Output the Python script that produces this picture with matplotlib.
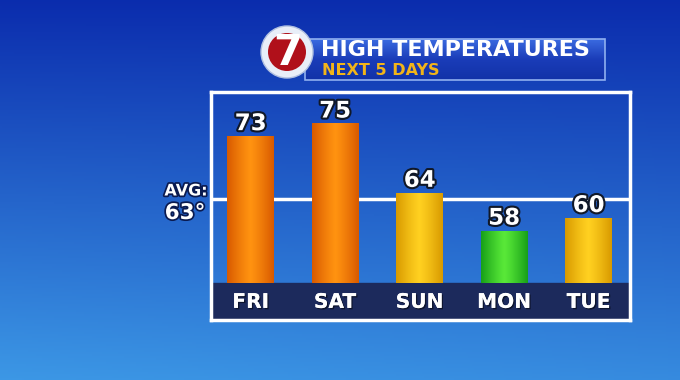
import numpy as np
import matplotlib.pyplot as plt
import matplotlib.patheffects as pe
from matplotlib.colors import LinearSegmentedColormap, to_rgb
from matplotlib.patches import Circle, Rectangle

days = ['FRI', 'SAT', 'SUN', 'MON', 'TUE']
highs = [73, 75, 64, 58, 60]
avg_temp = 63
# (edge colour, centre colour) per bar
bar_cols = [('#d85a00', '#ff9210'), ('#d85a00', '#ff9210'), ('#d89a00', '#ffd020'),
            ('#18a018', '#58e838'), ('#d89a00', '#ffd020')]
base = 49.6

fig = plt.figure(figsize=(6.8, 3.8), dpi=100)

# background gradient
bg = fig.add_axes([0, 0, 1, 1], zorder=0)
bg.axis('off')
ny, nx = 190, 340
yy, xx = np.mgrid[0:1:ny*1j, 0:1:nx*1j]
t = np.clip(0.85*yy - 0.1*xx*yy + 0.05, 0, 1)
top = np.array(to_rgb('#0826aa'))
bot = np.array(to_rgb('#42a4ec'))
img = top[None, None, :]*(1-t[..., None]) + bot[None, None, :]*t[..., None]
bg.imshow(img, extent=[0, 1, 0, 1], aspect='auto', origin='upper')
bg.set_xlim(0, 1)
bg.set_ylim(0, 1)

# main chart
ax = fig.add_axes([211/680, 60/380, 419/680, 228/380], zorder=1)
ax.patch.set_alpha(0)
ax.set_xticks([])
ax.set_yticks([])
for s in ax.spines.values():
    s.set_color('white')
    s.set_linewidth(2.5)

ax.axhspan(43.8, base, color='#1c2a5c', zorder=1)
ax.axhline(avg_temp, color='white', lw=2.5, zorder=2)

x = np.arange(len(days))
w = 0.55
bars = ax.bar(x, np.array(highs) - base, bottom=base, width=w, color='none', zorder=3)
prof = np.linspace(-1, 1, 60)
prof = 1 - np.abs(prof)**1.2
for b, (ec, cc), val in zip(bars, bar_cols, highs):
    cm = LinearSegmentedColormap.from_list('g', [ec, cc])
    im = ax.imshow(prof[None, :], cmap=cm, aspect='auto', zorder=3,
                   extent=[b.get_x(), b.get_x() + w, base, val])
    im.set_clip_path(b)
    ax.text(b.get_x() + w/2, val + 0.15, str(val), ha='center', va='bottom',
            fontsize=16.5, fontweight='bold', color='white', zorder=5,
            path_effects=[pe.withStroke(linewidth=3, foreground='#101828')])

for xi, d in zip(x, days):
    ax.text(xi, (43.8 + base)/2 - 0.1, d, ha='center', va='center', fontsize=14.5,
            fontweight='bold', color='white', zorder=5,
            path_effects=[pe.withSimplePatchShadow(offset=(1, -1), shadow_rgbFace='#000000', alpha=0.5), pe.Normal()])
ax.set_xlim(-0.47, 4.49)
ax.set_ylim(43.8, 80)

# overlay: header + avg label (pixel coords)
ov = fig.add_axes([0, 0, 1, 1], zorder=2)
ov.axis('off')

ov.text(186, 191, 'AVG:', ha='center', va='center', fontsize=11.5, fontweight='bold',
        color='white', path_effects=[pe.withStroke(linewidth=2.5, foreground='#0a1a50')])
ov.text(185, 213, '%d\u00b0' % avg_temp, ha='center', va='center', fontsize=15.5, fontweight='bold',
        color='white', path_effects=[pe.withStroke(linewidth=2.5, foreground='#0a1a50')])

# banner
bn = Rectangle((305, 39), 300, 41, facecolor='none', edgecolor='#8fb0f0', lw=1.2, zorder=2)
ov.add_patch(bn)
grad = np.linspace(0, 1, 40)[:, None]
bcm = LinearSegmentedColormap.from_list('b', ['#3a6ae0', '#1a3cb8', '#1232a8'])
bim = ov.imshow(grad, cmap=bcm, extent=[305, 605, 80, 39], aspect='auto', zorder=1)
bim.set_clip_path(bn)
ov.text(321, 50, 'HIGH TEMPERATURES', ha='left', va='center', fontsize=16,
        fontweight='bold', color='white', zorder=3)
ov.text(322, 70.5, 'NEXT 5 DAYS', ha='left', va='center', fontsize=11.5,
        fontweight='bold', color='#f2b418', zorder=3)

# logo
ov.add_patch(Circle((287, 52), 26, facecolor='#e8eef8', edgecolor='#b0c0e0', lw=1, zorder=4))
ov.add_patch(Circle((287, 52), 19, facecolor='#b0101a', zorder=5))
ov.text(288, 53, '7', ha='center', va='center', fontsize=30, fontweight='bold',
        color='white', zorder=6)
ov.set_xlim(0, 680)
ov.set_ylim(380, 0)

fig.savefig('out.png', dpi=100)
